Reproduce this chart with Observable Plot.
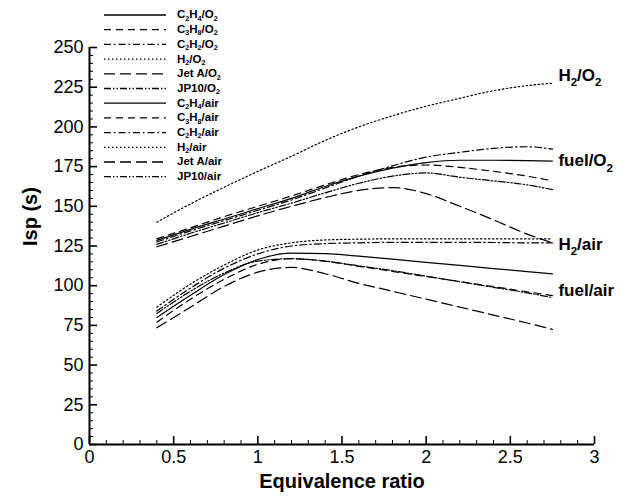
<!DOCTYPE html>
<html><head><meta charset="utf-8">
<script src="https://cdn.jsdelivr.net/npm/d3@7"></script>
<script src="https://cdn.jsdelivr.net/npm/@observablehq/plot@0.6"></script>
<style>
body{margin:0;background:#fff;}
#wrap{position:relative;width:642px;height:500px;}
#legend{position:absolute;left:0;top:0;}
</style></head><body><div id="wrap"></div>
<script>
// ---- data ----
const phi = [0.4, 0.6, 0.8, 1.0, 1.2, 1.4, 1.6, 1.8, 2.0, 2.2, 2.4, 2.6, 2.75];
const C2H4_O2 = [128.5, 135.5, 142, 148.5, 155, 162.5, 169, 174, 177.5, 179, 179, 178.8, 178.5];
const C3H8_O2 = [129.5, 136.5, 143.5, 150, 156.5, 163.5, 170, 174.5, 176, 174.5, 172, 169, 166];
const C2H2_O2 = [127.5, 134.5, 141, 147.5, 154, 161.5, 169, 175.5, 181, 184, 186.5, 187.5, 186];
const H2_O2   = [140, 151.5, 162, 172, 181.5, 191.5, 200, 207, 213, 218, 222.8, 226, 227.5];
const JetA_O2 = [124.5, 131, 137.5, 144, 150, 155.5, 160, 161.8, 158, 150, 141.5, 132.5, 127];
const JP10_O2 = [126, 133, 139.5, 146, 152, 158.5, 164.5, 169, 171, 168.3, 166, 163.5, 160.5];
const C2H4_air = [80, 94, 107, 116.5, 120.5, 120.2, 118.6, 116.7, 114.7, 112.8, 110.8, 108.9, 107.4];
const C3H8_air = [77, 91.5, 104, 113.5, 117, 115.4, 112.2, 109, 105.8, 102.6, 99.4, 96.2, 93.8];
const C2H2_air = [84, 98.5, 111, 120, 125, 126.5, 127, 127.3, 127.3, 127.3, 127.2, 127, 127];
const H2_air   = [86.5, 101, 113, 122.5, 127, 128.8, 129.3, 129.5, 129.5, 129.5, 129.5, 129.5, 129.5];
const JetA_air = [73.5, 86.5, 99.5, 108.5, 111.5, 107.5, 101.5, 96.5, 91.5, 86.5, 81.5, 76.5, 72.5];
const JP10_air = [82.5, 96.5, 108, 115.5, 117, 115.5, 112.5, 109.5, 106, 102.5, 99, 95.5, 92.5];

const seriesNames = ["C_2H_4/O_2","C_3H_8/O_2","C_2H_2/O_2","H_2/O_2","Jet A/O_2","JP10/O_2",
                     "C_2H_4/air","C_3H_8/air","C_2H_2/air","H_2/air","Jet A/air","JP10/air"];
const seriesValues = [C2H4_O2, C3H8_O2, C2H2_O2, H2_O2, JetA_O2, JP10_O2,
                      C2H4_air, C3H8_air, C2H2_air, H2_air, JetA_air, JP10_air];
const xMajorTicks = [0, 0.5, 1, 1.5, 2, 2.5, 3];
const xMinorTicks = [0.1,0.2,0.3,0.4,0.6,0.7,0.8,0.9,1.1,1.2,1.3,1.4,1.6,1.7,1.8,1.9,2.1,2.2,2.3,2.4,2.6,2.7,2.8,2.9];
const yMajorTicks = [0, 25, 50, 75, 100, 125, 150, 175, 200, 225, 250];
const yMinorTicks = [5,10,15,20,30,35,40,45,55,60,65,70,80,85,90,95,105,110,115,120,130,135,140,145,155,160,165,170,180,185,190,195,205,210,215,220,230,235,240,245];
const groupLabels = [
  {label: "H_2/O_2", series: "H_2/O_2"},
  {label: "fuel/O_2", series: "C_2H_4/O_2"},
  {label: "H_2/air", series: "H_2/air"},
  {label: "fuel/air", series: "C_3H_8/air"}
];

// ---- styles ----
const fuelDash = {
  "C_2H_4": null,
  "C_3H_8": "7,5",
  "C_2H_2": "7,3,1.5,3",
  "H_2": "1.5,2.5",
  "Jet A": "11,5",
  "JP10": "7,2,1.5,2,1.5,2"
};
const dashOf = name => fuelDash[name.split("/")[0]];
const labelDy = [-8, 0, 6, -5];

const W = 642, H = 500, mL = 89, mR = 48, mT = 47, mB = 56;
const fw = W - mL - mR, fh = H - mT - mB;

const rows = seriesNames.flatMap((s, i) => phi.map((p, j) => ({series: s, phi: p, isp: seriesValues[i][j]})));

const marks = [];
seriesNames.forEach(s => {
  marks.push(Plot.line(rows.filter(r => r.series === s), {
    x: "phi", y: "isp", stroke: "black", strokeWidth: 1.2, curve: "monotone-x",
    strokeDasharray: dashOf(s)
  }));
});
// axis lines & ticks (inward)
marks.push(Plot.ruleX([0], {strokeWidth: 2}));
marks.push(Plot.ruleY([0], {strokeWidth: 2}));
marks.push(Plot.tickX(xMajorTicks, {x: d => d, insetTop: fh - 8, strokeWidth: 1.6}));
marks.push(Plot.tickX(xMinorTicks, {x: d => d, insetTop: fh - 4, strokeWidth: 1}));
marks.push(Plot.tickY(yMajorTicks, {y: d => d, insetRight: fw - 8, strokeWidth: 1.6}));
marks.push(Plot.tickY(yMinorTicks, {y: d => d, insetRight: fw - 4, strokeWidth: 1}));
marks.push(Plot.axisX({ticks: xMajorTicks, tickSize: 0, tickPadding: 6, tickFormat: d => String(d), fontSize: 18, label: null}));
marks.push(Plot.axisY({ticks: yMajorTicks, tickSize: 0, tickPadding: 6, tickFormat: d => String(d), fontSize: 18, label: null}));
marks.push(Plot.text(["Equivalence ratio"], {frameAnchor: "bottom", dy: 43, fontWeight: "bold", fontSize: 20}));
marks.push(Plot.text(["Isp (s)"], {frameAnchor: "left", dx: -59, rotate: -90, fontWeight: "bold", fontSize: 20}));
groupLabels.forEach((g, k) => {
  const vals = seriesValues[seriesNames.indexOf(g.series)];
  marks.push(Plot.text([{x: phi[phi.length - 1], y: vals[vals.length - 1], t: g.label}], {
    x: "x", y: "y", text: "t", textAnchor: "start", dx: 6, dy: labelDy[k],
    fontWeight: "bold", fontSize: 17
  }));
});

const chart = Plot.plot({
  width: W, height: H,
  marginLeft: mL, marginRight: mR, marginTop: mT, marginBottom: mB,
  style: {fontFamily: "'Liberation Sans', Arial, Helvetica, sans-serif", fontSize: "18px", color: "black", background: "white", overflow: "visible"},
  x: {domain: [0, 3], axis: null},
  y: {domain: [0, 250], axis: null},
  marks
});
document.getElementById("wrap").appendChild(chart);

// subscript helper: "C_2H_4" -> tspans
function setSub(textEl, str, size, k = 0.3, r = 0.68) {
  const t = d3.select(textEl);
  t.text(null);
  const parts = str.split(/_(\d)/);
  const shift = size * k;
  parts.forEach((p, i) => {
    if (p === "") return;
    if (i % 2 === 1) {
      t.append("tspan").attr("font-size", size * r).attr("dy", shift).text(p);
    } else {
      const ts = t.append("tspan").text(p);
      if (i > 0) ts.attr("dy", -shift);
    }
  });
}
d3.select(chart).selectAll("text").each(function() {
  const s = this.textContent;
  if (s.includes("_")) setSub(this, s, 17);
});

// ---- legend (overlay) ----
const leg = d3.select("#wrap").append("svg").attr("id", "legend")
  .attr("width", W).attr("height", 200)
  .style("font-family", "'Liberation Sans', Arial, Helvetica, sans-serif");
seriesNames.forEach((s, i) => {
  const y = 15 + i * 14.7;
  leg.append("line").attr("x1", 104).attr("x2", 166).attr("y1", y).attr("y2", y)
    .attr("stroke", "black").attr("stroke-width", 1.3)
    .attr("stroke-dasharray", dashOf(s));
  const t = leg.append("text").attr("x", 177).attr("y", y).attr("dy", "0.3em")
    .attr("font-weight", "bold").attr("font-size", 11.5).node();
  setSub(t, s, 11.5, 0.2, 0.62);
});
</script></body></html>
